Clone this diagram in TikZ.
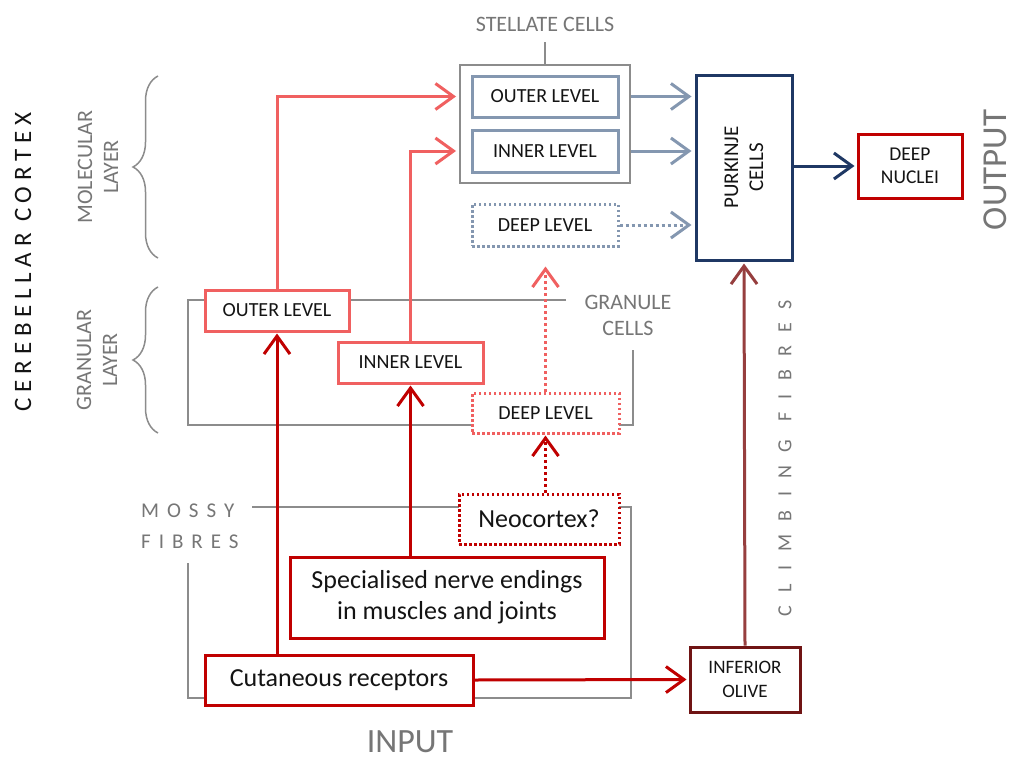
\documentclass[tikz,border=0pt]{standalone}
\usepackage{fontspec}
\setmainfont{Carlito}
\newfontfamily\spacedA[LetterSpace=23]{Carlito}
\newfontfamily\spacedB[LetterSpace=67]{Carlito}
\newfontfamily\spacedC[LetterSpace=38]{Carlito}
\usetikzlibrary{arrows.meta,decorations.pathreplacing}
\definecolor{dred}{RGB}{192,0,0}
\definecolor{lred}{RGB}{240,96,96}
\definecolor{bgray}{RGB}{132,151,176}
\definecolor{navyc}{RGB}{31,56,100}
\definecolor{lgray}{RGB}{140,140,140}
\definecolor{tgray}{RGB}{118,118,118}
\definecolor{climbc}{RGB}{150,62,62}
\definecolor{oliveborder}{RGB}{112,20,20}
\definecolor{ink}{RGB}{20,20,20}
\tikzset{
  box/.style={draw, line width=3pt, fill=white, inner sep=0pt, align=center, text=ink},
  dotbox/.style={box, dash pattern=on 2.5pt off 2.5pt},
  lvl/.style={font=\fontsize{20}{24}\selectfont},
  big/.style={font=\fontsize{26}{31}\selectfont},
  arr/.style={line width=3pt, -{Straight Barb[length=18pt,width=26pt]}},
  dotline/.style={dash pattern=on 3pt off 3pt},
  outline/.style={draw=lgray, line width=2pt},
  glabel/.style={text=tgray, inner sep=0pt, align=center, font=\fontsize{22}{26}\selectfont},
  bracestyle/.style={draw=lgray, line width=1.5pt, decorate, decoration={brace, amplitude=25pt}}
}
\begin{document}
\begin{tikzpicture}[x=1pt, y=-1pt]
\useasboundingbox (0,0) rectangle (1014,760);
\fill[white] (0,0) rectangle (1014,760);

% group outlines
\draw[outline] (566,300) -- (188,300) -- (188,425) -- (633,425) -- (633,350);
\draw[outline] (252,507) -- (631,507) -- (631,698) -- (188,698) -- (188,563);

% braces
\draw[bracestyle] (158,258) -- (158,76);
\draw[bracestyle] (158,433) -- (158,287);

% stellate cells
\node[draw=lgray, line width=2pt, fill=white, minimum width=170pt, minimum height=118pt, inner sep=0pt] (sc) at (545,124) {};
\node[box, lvl, draw=bgray, minimum width=146pt, minimum height=41pt] (so) at (545,96.5) {OUTER LEVEL};
\node[box, lvl, draw=bgray, minimum width=146pt, minimum height=42pt] (si) at (545,151) {INNER LEVEL};
\node[dotbox, lvl, draw=bgray, minimum width=146pt, minimum height=42pt] (sd) at (545,225) {DEEP LEVEL};

% granule cells
\node[box, lvl, draw=lred, minimum width=144pt, minimum height=41pt] (og) at (277,310.5) {OUTER LEVEL};
\node[box, lvl, draw=lred, minimum width=145pt, minimum height=41pt] (ig) at (410.5,362.5) {INNER LEVEL};
\node[dotbox, lvl, draw=lred, minimum width=147pt, minimum height=40pt] (dg) at (545.5,413) {DEEP LEVEL};

% purkinje and deep nuclei
\node[box, draw=navyc, minimum width=96pt, minimum height=185pt] (pk) at (744,167.5) {};
\node[rotate=90, align=center, text=ink, font=\fontsize{21}{25}\selectfont] (pkt) at (pk.center) {PURKINJE\\CELLS};
\node[box, draw=dred, minimum width=104pt, minimum height=64pt, font=\fontsize{19.5}{23}\selectfont] (dn) at (910,166) {DEEP\\NUCLEI};

% inputs
\node[dotbox, big, draw=dred, minimum width=160pt, minimum height=50pt] (neo) at (539,519) {Neocortex?};
\node[box, big, draw=dred, minimum width=314pt, minimum height=81pt] (spec) at (447,597.5) {Specialised nerve endings\\in muscles and joints};
\node[box, big, draw=dred, minimum width=268pt, minimum height=50pt] (cut) at (339,680) {Cutaneous receptors};
\node[box, draw=oliveborder, minimum width=110pt, minimum height=65pt, font=\fontsize{19}{24}\selectfont] (io) at (745,679.5) {INFERIOR\\OLIVE};

% labels
\node[glabel] (stl) at (545,24) {STELLATE CELLS};
\draw[outline] (sc.north) -- ++(0,-22);
\node[glabel] (gc) at (628,315) {GRANULE\\CELLS};
\node[glabel, rotate=90] (ml) at (98,167) {MOLECULAR\\LAYER};
\node[glabel, rotate=90] (gl) at (97,360) {GRANULAR\\LAYER};
\node[text=tgray, inner sep=0pt, font=\fontsize{34}{40}\selectfont] (inp) at (410,742) {INPUT};
\node[text=tgray, inner sep=0pt, rotate=90, font=\fontsize{35}{40}\selectfont] (outp) at (995,170) {OUTPUT};
\node[text=ink, inner sep=0pt, rotate=90, font=\spacedA\fontsize{25}{30}\selectfont] (cc) at (23,262) {CEREBELLAR CORTEX};
\node[text=tgray, inner sep=0pt, rotate=90, font=\spacedB\fontsize{20}{24}\selectfont] (cf) at (785,458) {CLIMBING FIBRES};
\node[text=tgray, inner sep=0pt, anchor=west, align=left, font=\spacedC\fontsize{21}{31}\selectfont] (mf) at (141,526) {MOSSY\\FIBRES};

% connectors
\draw[arr, dred, shorten >=1pt] (cut.north -| og.south) -- (og.south);
\draw[arr, dred, shorten >=1pt] (spec.north -| ig.south) -- (ig.south);
\draw[arr, dred, dotline, shorten >=1pt] (neo.north -| dg.south) -- (dg.south);
\draw[arr, lred, shorten >=3pt] (og.north) |- (sc.west |- so.west);
\draw[arr, lred, shorten >=3pt] (ig.north) |- (sc.west |- si.west);
\draw[arr, lred, dotline, shorten >=19pt] (dg.north) -- (dg.north |- sd.south);
\draw[arr, bgray, shorten >=3pt] (sc.east |- so.east) -- (pk.west |- so.east);
\draw[arr, bgray, shorten >=3pt] (sc.east |- si.east) -- (pk.west |- si.east);
\draw[arr, bgray, dotline, shorten >=3pt] (sd.east) -- (pk.west |- sd.east);
\draw[arr, navyc, shorten >=2pt] (pk.east |- dn.west) -- (dn.west);
\draw[arr, dred, shorten >=2pt] (cut.east) -- (io.west);
\draw[arr, climbc, shorten >=2pt] (io.north) -- (pk.south);
\end{tikzpicture}
\end{document}
